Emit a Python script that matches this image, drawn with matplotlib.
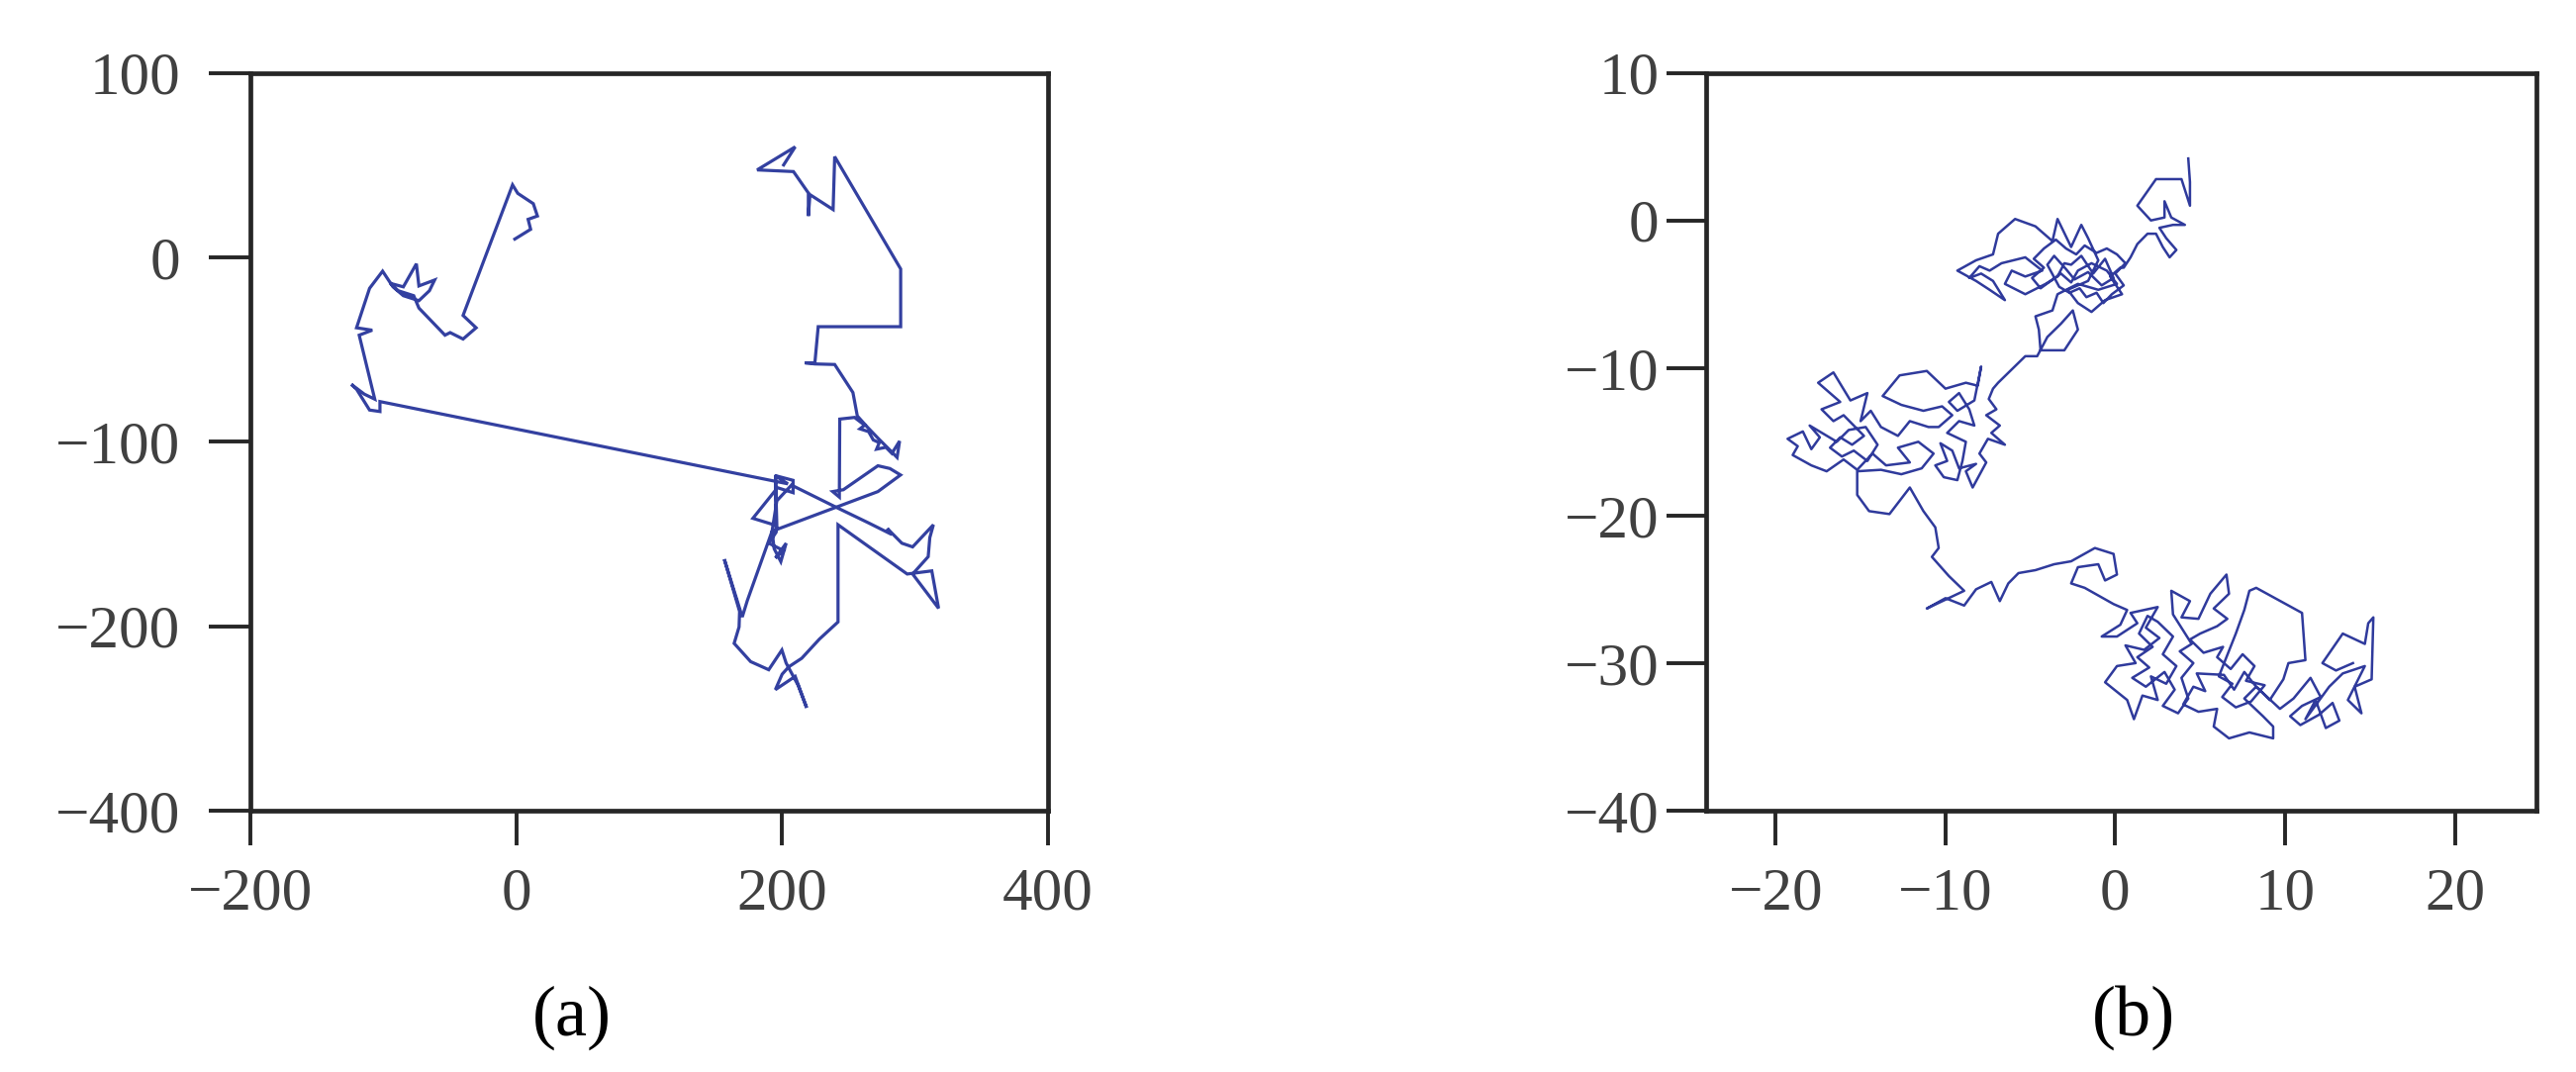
import numpy as np
import matplotlib
matplotlib.use("Agg")
import matplotlib.pyplot as plt

plt.rcParams['font.family'] = ['Liberation Serif', 'DejaVu Serif']

# ---- (a) Levy flight ----
levy_top_left = [
    (-1.0, 9.9), (10.9, 15.2), (9.0, 20.6), (16.0, 22.4), (12.9, 29.1), (1.2, 34.7),
    (-2.7, 39.3), (-39.9, -31.5), (-30.1, -38.2), (-39.9, -44.3), (-49.6, -40.8),
    (-53.5, -42.2), (-73.1, -27.5), (-77.0, -20.8), (-88.7, -18.1), (-94.6, -14.1),
    (-84.8, -16.0), (-75.0, -3.5), (-73.1, -15.5), (-61.3, -12.3), (-65.2, -18.1),
    (-73.1, -23.5), (-84.8, -20.8), (-92.6, -16.0), (-100.4, -7.5), (-110.2, -16.8),
    (-120.0, -38.2), (-108.2, -39.5), (-118.0, -42.2), (-106.3, -76.9), (-114.1, -74.2),
    (-123.9, -68.9), (-120.0, -71.5), (-110.2, -82.8), (-102.4, -83.6), (-102.4, -78.2),
]
levy_right = [
    (204.3, -122.8), (194.6, -118.3), (208.2, -120.9), (208.2, -127.6), (196.5, -124.9),
    (178.0, -141.5), (196.0, -145.5), (195.0, -118.0), (195.5, -149.0), (190.0, -155.0),
    (201.0, -159.0), (195.0, -163.0), (203.0, -155.0), (199.0, -165.0), (194.0, -158.0),
    (192.4, -148.5), (173.8, -186.1), (170.0, -195.0), (156.5, -163.7), (168.0, -192.0),
    (167.6, -200.4), (163.9, -209.3), (176.3, -219.2), (189.9, -223.6), (199.8, -212.9),
    (203.0, -220.0), (212.0, -232.0), (218.4, -244.2), (209.8, -227.2), (194.9, -234.4),
    (200.0, -226.0), (205.0, -222.0), (214.7, -217.4), (228.0, -207.0), (242.0, -197.7),
    (242.0, -145.0), (294.0, -171.7), (312.5, -170.0), (317.6, -190.3), (298.1, -171.7),
    (309.8, -162.3), (311.0, -152.0), (313.7, -145.0), (298.1, -157.0), (290.0, -155.0),
    (279.0, -147.0), (282.5, -150.3), (265.0, -144.0), (242.0, -136.0), (207.0, -123.5),
    (196.0, -132.0), (192.4, -148.5), (272.0, -127.0), (289.0, -118.0), (281.0, -114.5),
    (272.0, -113.0), (246.0, -126.0), (238.0, -127.0), (243.0, -130.0), (243.3, -87.7),
    (254.4, -86.8), (262.0, -91.0), (258.5, -93.0), (265.0, -94.5), (268.5, -99.0),
    (273.0, -100.5), (271.0, -104.0), (278.0, -103.0), (282.5, -106.3), (288.3, -99.6),
    (286.4, -108.5), (281.0, -104.5), (272.0, -98.0), (264.0, -92.0), (256.5, -86.0),
    (253.2, -73.3), (239.5, -58.1), (224.6, -57.8), (217.2, -57.2), (224.6, -57.2),
    (227.1, -37.6), (289.1, -37.6), (289.1, -6.3), (239.5, 54.6), (238.3, 25.9),
    (220.9, 34.0), (219.7, 22.4), (219.7, 34.9), (208.5, 46.5), (181.2, 47.4),
    (209.8, 59.9), (201.1, 50.1),
]

# ---- (b) Brownian motion ----
brown_top = [
    (4.3, 4.2), (4.4, 2.6), (4.4, 1.0), (3.9, 2.8), (2.4, 2.8), (1.3, 1.0), (2.1, 0.0),
    (2.9, 0.2), (2.9, 1.3), (3.3, 0.2), (4.1, -0.3), (3.4, -0.3), (2.6, -0.5), (3.0, -1.2),
    (3.6, -2.0), (3.2, -2.5), (2.8, -1.8), (2.4, -0.9), (1.9, -0.9), (1.3, -1.6),
    (0.9, -2.5), (0.5, -3.2),
]
brown_upper = [
    (0.3, -3.2), (-0.3, -3.8), (0.4, -5.0), (-0.6, -5.4), (-1.4, -6.2), (-2.2, -5.6),
    (-2.8, -4.7), (-1.6, -4.1), (-1.0, -2.7), (-1.6, -1.2), (-2.0, -0.3), (-2.6, -1.8),
    (-3.4, 0.1), (-3.7, -1.4), (-4.7, -0.4), (-5.9, 0.1), (-6.9, -0.9), (-7.2, -2.3),
    (-8.2, -2.7), (-9.3, -3.4), (-8.2, -4.1), (-7.4, -4.7), (-6.5, -5.4), (-7.2, -4.1),
    (-7.9, -3.6), (-8.6, -3.9), (-8.0, -3.1), (-7.4, -3.4), (-6.7, -2.9), (-5.3, -2.5),
    (-4.3, -3.4), (-5.3, -3.8), (-6.1, -3.4), (-6.5, -4.3), (-5.3, -5.0), (-4.1, -4.3),
    (-3.4, -3.8), (-3.0, -2.9), (-2.6, -3.0), (-2.0, -2.4), (-1.3, -3.6), (-0.6, -2.6),
    (-0.1, -3.9), (-0.8, -4.4), (-1.6, -3.5), (-2.4, -4.0), (-2.9, -3.3), (-3.6, -2.4),
    (-4.0, -3.0), (-3.3, -4.5), (-2.7, -4.9), (-2.1, -4.6), (-1.7, -5.2), (-1.1, -4.9),
    (-0.7, -5.6), (-0.2, -5.0), (0.5, -4.4), (0.0, -3.6), (0.6, -2.9), (0.1, -2.3),
    (-0.5, -1.9), (-1.1, -2.2), (-1.8, -1.7), (-2.3, -2.3), (-2.9, -1.9), (-3.5, -1.3),
    (-4.2, -1.9), (-4.8, -2.6), (-4.2, -3.2), (-4.9, -3.9), (-4.4, -4.6), (-3.8, -4.1),
    (-3.2, -3.6), (-2.6, -4.2), (-2.2, -3.4), (-1.4, -2.9), (-0.5, -3.4), (0.1, -4.3),
    (-1.0, -4.7), (-2.2, -4.3), (-3.4, -5.0), (-3.7, -6.1), (-4.7, -6.5), (-4.5, -7.4),
    (-4.4, -8.8), (-3.0, -8.8), (-2.2, -7.4), (-2.5, -6.1), (-3.2, -7.0), (-4.0, -7.9),
    (-4.6, -9.2), (-5.3, -9.2), (-6.1, -10.1), (-6.9, -11.0), (-7.2, -11.4),
]
brown_middle = [
    (-7.45, -12.1), (-7.0, -12.8), (-7.6, -13.2), (-6.8, -13.9), (-7.3, -14.4),
    (-6.5, -15.2), (-7.5, -14.8), (-8.0, -15.8), (-7.6, -16.4), (-8.4, -18.1),
    (-8.8, -17.0), (-8.2, -16.5), (-9.2, -16.8), (-9.6, -15.6), (-10.3, -15.1),
    (-9.9, -16.3), (-10.6, -16.6), (-10.1, -17.4), (-9.3, -17.6), (-9.0, -16.3),
    (-8.8, -15.0), (-9.9, -14.4), (-9.2, -13.6), (-8.3, -13.9), (-8.6, -12.8),
    (-9.2, -11.7), (-9.8, -12.3), (-9.3, -12.9), (-8.3, -12.2), (-7.9, -9.9),
    (-8.1, -11.2), (-8.8, -11.0), (-10.0, -11.4), (-11.1, -10.2), (-12.7, -10.5),
    (-13.7, -11.9), (-12.6, -12.5), (-11.3, -12.9), (-10.2, -12.6), (-9.6, -13.2),
    (-10.4, -14.0), (-11.0, -14.0), (-12.1, -13.6), (-12.8, -14.6), (-13.8, -14.0),
    (-14.4, -12.9), (-15.0, -13.6), (-14.6, -11.7), (-15.6, -12.2), (-16.6, -10.3),
    (-17.5, -11.0), (-16.2, -12.3), (-17.3, -12.8), (-16.6, -13.6), (-16.0, -13.2),
    (-15.4, -13.9), (-14.8, -14.6), (-15.5, -15.2), (-16.2, -14.7), (-16.8, -15.4),
    (-16.1, -16.0), (-15.4, -15.6), (-14.6, -16.3), (-14.0, -15.2), (-14.7, -14.0),
    (-15.7, -14.2), (-16.4, -15.0), (-18.0, -13.9), (-17.4, -14.7), (-17.9, -15.5),
    (-18.4, -14.3), (-19.3, -14.8), (-18.7, -15.3), (-19.0, -15.9), (-17.9, -16.6),
    (-17.0, -17.0), (-16.0, -16.2), (-15.2, -16.9), (-14.3, -15.8), (-13.5, -16.6),
    (-12.1, -16.4), (-12.8, -15.4), (-11.6, -15.0), (-10.7, -15.8), (-11.4, -16.8),
    (-12.6, -17.2), (-13.8, -16.9), (-15.2, -17.0), (-15.2, -18.6), (-14.5, -19.7),
    (-13.3, -19.9), (-12.1, -18.1), (-11.3, -19.7), (-10.6, -20.8), (-10.4, -22.2),
]
brown_link = [
    (-10.8, -22.8), (-9.8, -24.1), (-8.9, -25.1), (-11.1, -26.3), (-10.0, -25.6),
    (-8.9, -26.1), (-8.2, -25.0), (-7.3, -24.5), (-6.8, -25.8), (-6.3, -24.6),
    (-5.7, -23.9), (-4.7, -23.7), (-3.6, -23.3), (-2.6, -23.1), (-1.2, -22.2),
    (-0.1, -22.6), (0.1, -24.0), (-0.6, -24.4), (-1.0, -23.3), (-2.2, -23.5),
    (-2.6, -24.6), (-1.8, -24.9), (-0.1, -26.0),
]
brown_lower = [
    (0.7, -26.4), (0.3, -27.4), (-0.8, -28.2), (0.1, -28.2), (1.3, -27.3), (0.9, -26.6),
    (2.5, -26.2), (1.8, -27.6), (2.6, -28.3), (1.7, -29.1), (0.6, -28.8), (1.2, -30.0),
    (0.1, -30.2), (-0.6, -31.3), (0.7, -32.5), (1.1, -33.8), (1.6, -32.2), (2.5, -32.5),
    (2.1, -30.9), (3.0, -31.4), (3.6, -30.2), (2.8, -29.4), (3.4, -28.2), (2.5, -27.2),
    (1.9, -26.8), (1.4, -28.0), (2.2, -28.9), (1.3, -29.6), (2.0, -30.3), (1.0, -31.0),
    (1.8, -31.6), (2.9, -30.6), (3.5, -31.8), (2.8, -32.9), (3.7, -33.4), (4.3, -32.4),
    (3.9, -31.0), (4.6, -30.0), (3.8, -29.2), (4.5, -28.7), (3.4, -26.7), (3.3, -25.1),
    (4.4, -25.8), (3.9, -26.9), (4.9, -27.0), (5.6, -25.3), (6.55, -24.0), (6.7, -25.3),
    (5.8, -26.3), (6.6, -27.0), (6.0, -27.5), (5.0, -28.0), (4.4, -28.4), (5.2, -29.3),
    (6.35, -28.9), (6.0, -29.6), (6.8, -30.4), (7.5, -29.4), (8.2, -30.2), (7.7, -31.2),
    (8.8, -31.5), (8.0, -32.6), (7.1, -33.0), (6.3, -32.3), (6.9, -31.4), (6.1, -30.9),
    (7.1, -28.0), (7.6, -26.4), (7.9, -25.1), (8.3, -24.9), (11.0, -26.6), (11.2, -29.8),
    (10.2, -30.0), (9.9, -31.1), (9.1, -32.5), (8.3, -31.6), (7.6, -30.6), (7.0, -31.8),
    (6.4, -30.8), (4.8, -30.7), (5.3, -31.9), (4.6, -31.6), (4.0, -32.8), (4.9, -33.3),
    (6.0, -33.1), (5.8, -34.3), (6.7, -35.1), (7.9, -34.7), (9.3, -35.1), (9.3, -34.3),
    (8.7, -33.6), (7.6, -32.4), (8.3, -31.6), (9.7, -33.1), (10.5, -32.4), (11.5, -31.0),
    (12.1, -32.3), (11.0, -32.9), (10.3, -33.6), (10.9, -34.2), (12.0, -33.5),
    (12.8, -32.7), (13.2, -33.9), (12.4, -34.4), (11.8, -32.5), (11.2, -33.8),
    (12.6, -31.6), (13.4, -30.7), (14.7, -30.2), (13.7, -32.5), (14.5, -33.4),
    (14.1, -31.6), (15.1, -31.1), (15.2, -26.9), (14.9, -27.3), (14.7, -28.7),
    (13.4, -28.0), (12.2, -30.0), (13.0, -30.5), (14.0, -30.0),
]

# tick values and labels (the original labels the bottom tick of (a) "-400")
a_xticks = [-200, 0, 200, 400]
a_yticks = [100, 0, -100, -200, -300]
a_ylabels = ['100', '0', '\u2212100', '\u2212200', '\u2212400']
b_xticks = [-20, -10, 0, 10, 20]
b_yticks = [10, 0, -10, -20, -30, -40]

fig = plt.figure(figsize=(26.03, 10.83), dpi=100)
ax1 = fig.add_axes([0.0971, 0.2438, 0.3098, 0.6882])
ax2 = fig.add_axes([0.6623, 0.2438, 0.3223, 0.6882])

lx, ly = np.array(levy_top_left + levy_right).T
ax1.plot(lx, ly, color='#3340a0', lw=2.3, solid_joinstyle='miter')

bx, by = np.array(brown_top + brown_upper + brown_middle + brown_link + brown_lower).T
ax2.plot(bx, by, color='#2f3a9c', lw=1.8)

ax1.set_xlim(-200, 400)
ax1.set_ylim(-300, 100)
ax1.set_xticks(a_xticks)
ax1.set_xticklabels(['\u2212200', '0', '200', '400'])
ax1.set_yticks(a_yticks)
ax1.set_yticklabels(a_ylabels)

ax2.set_xlim(-24.1, 24.8)
ax2.set_ylim(-40, 10)
ax2.set_xticks(b_xticks)
ax2.set_xticklabels(['\u221220', '\u221210', '0', '10', '20'])
ax2.set_yticks(b_yticks)
ax2.set_yticklabels(['10', '0', '\u221210', '\u221220', '\u221230', '\u221240'])

for ax in (ax1, ax2):
    for s in ax.spines.values():
        s.set_linewidth(3.4)
        s.set_color('#262626')
    ax.tick_params(axis='both', direction='out', width=2.8, color='#262626',
                   labelsize=44, labelcolor='#404040')
    ax.tick_params(axis='x', length=25, pad=16)

ax1.tick_params(axis='y', length=30, pad=21)
ax2.tick_params(axis='y', length=29, pad=5)

fig.text(578 / 2603, 1 - 1028 / 1083, '(a)', fontsize=52, ha='center', va='center')
fig.text(2156 / 2603, 1 - 1028 / 1083, '(b)', fontsize=52, ha='center', va='center')

fig.savefig('out.png', dpi=100)
